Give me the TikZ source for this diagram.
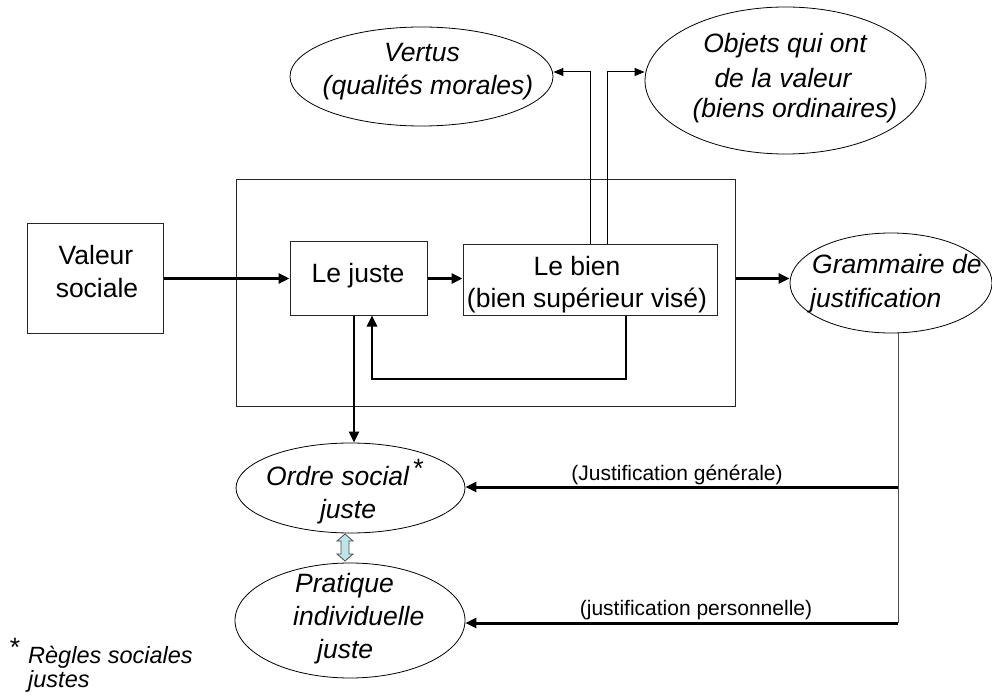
\documentclass[tikz,border=0pt]{standalone}
\usepackage{fontspec}
\setmainfont{Liberation Sans}
\usetikzlibrary{arrows.meta,shapes.geometric}
\definecolor{dblfill}{RGB}{190,228,232}
\begin{document}
\begin{tikzpicture}[x=1pt,y=-1pt,
  box/.style={draw=black!85, line width=1pt, rectangle, inner sep=0pt},
  oval/.style={draw=black, line width=0.8pt, ellipse, inner sep=0pt},
  txt/.style={inner sep=0pt, anchor=base, font=\fontsize{26.5}{30}\selectfont},
  itxt/.style={inner sep=0pt, anchor=base, font=\fontsize{26.5}{30}\selectfont\itshape},
  ltxt/.style={inner sep=0pt, anchor=base, font=\fontsize{21}{24}\selectfont},
  heavy/.style={line width=3pt, -{Triangle[length=11pt,width=10pt]}},
  medium/.style={line width=2.5pt, -{Triangle[length=11pt,width=10pt]}},
  slim/.style={line width=1pt, -{Triangle[length=10pt,width=8pt]}},
  plain/.style={line width=1pt, draw=black!70}
]
\useasboundingbox (0,0) rectangle (992,700);

% boxes
\node[box, minimum width=499, minimum height=226] (outer) at (485.5,293) {};
\node[box, minimum width=136, minimum height=109] (valeur) at (95,278.5) {};
\node[box, minimum width=137, minimum height=73] (juste) at (358.5,278.5) {};
\node[box, minimum width=254, minimum height=70] (bien) at (590,280) {};

% ellipses
\node[oval, minimum width=263, minimum height=99] (vertus) at (421.5,76.5) {};
\node[oval, minimum width=281, minimum height=147] (objets) at (785.5,80.5) {};
\node[oval, minimum width=202, minimum height=100] (gram) at (891,283) {};
\node[oval, minimum width=229, minimum height=90] (ordre) at (350.5,488) {};
\node[oval, minimum width=230, minimum height=115] (prat) at (350,620.5) {};

% texts
\node[txt] (tval1) at (96,265) {Valeur};
\node[txt] (tval2) at (97,298) {sociale};
\node[txt] (tjus) at (358,283) {Le juste};
\node[txt] (tbien1) at (577,276) {Le bien};
\node[txt] (tbien2) at (587,307) {(bien supérieur visé)};
\node[itxt] (tver1) at (422,62) {Vertus};
\node[itxt] (tver2) at (428,95) {(qualités morales)};
\node[itxt] (tobj1) at (785,53) {Objets qui ont};
\node[itxt] (tobj2) at (783,88) {de la valeur};
\node[itxt] (tobj3) at (795,118) {(biens ordinaires)};
\node[itxt, anchor=base west] (tgr1) at (812,274) {Grammaire de};
\node[itxt, anchor=base west] (tgr2) at (810,307) {justification};
\node[itxt, anchor=base west] (tord1) at (266,485) {Ordre social\,\raisebox{8pt}{\upshape *}};
\node[itxt] (tord2) at (348,518) {juste};
\node[itxt, anchor=base west] (tpr1) at (295,592) {Pratique};
\node[itxt, anchor=base west] (tpr2) at (293,625) {individuelle};
\node[itxt, anchor=base west] (tpr3) at (317,658) {juste};
\node[txt] (tstar) at (15,656) {*};
\node[inner sep=0pt, anchor=base west, font=\fontsize{23.5}{27}\selectfont\itshape] (tfn1) at (28,663) {Règles sociales};
\node[inner sep=0pt, anchor=base west, font=\fontsize{23.5}{27}\selectfont\itshape] (tfn2) at (28,687) {justes};
\node[ltxt] (lgen) at (677,480) {(Justification générale)};
\node[ltxt] (lper) at (696,615) {(justification personnelle)};

% helper coordinates
\coordinate (ytop) at (0,72);
\coordinate (fbc) at (372,379);
\coordinate (gj) at (898,487);
\coordinate (pj) at (898,623);
\coordinate (jd) at (354,0);

% connectors
\draw[heavy] (valeur.east) -- (juste.west);
\draw[heavy] (juste.east) -- (juste.east -| bien.west);
\draw[heavy] (outer.east |- juste.east) -- (gram.west |- juste.east);
\draw[medium] (juste.south -| jd) -- (ordre.north -| jd);
\draw[medium] ([xshift=36pt]bien.south) |- (fbc) -- (juste.south -| fbc);
\draw[slim] (bien.north) |- (vertus.east |- ytop);
\draw[slim] ([xshift=17pt]bien.north) |- (objets.west |- ytop);
\draw[plain] (gram.south -| gj) -- (pj);
\draw[heavy] (gj) -- (ordre.east |- gj);
\draw[heavy] (pj) -- (prat.east |- pj);

% double arrow between the two lower ellipses
\draw[fill=dblfill, draw=black!70, line width=0.8pt]
  (345,534) -- (353,541) -- (349,541) -- (349,554) -- (353,554) -- (345,561)
  -- (337,554) -- (341,554) -- (341,541) -- (337,541) -- cycle;
\end{tikzpicture}
\end{document}
